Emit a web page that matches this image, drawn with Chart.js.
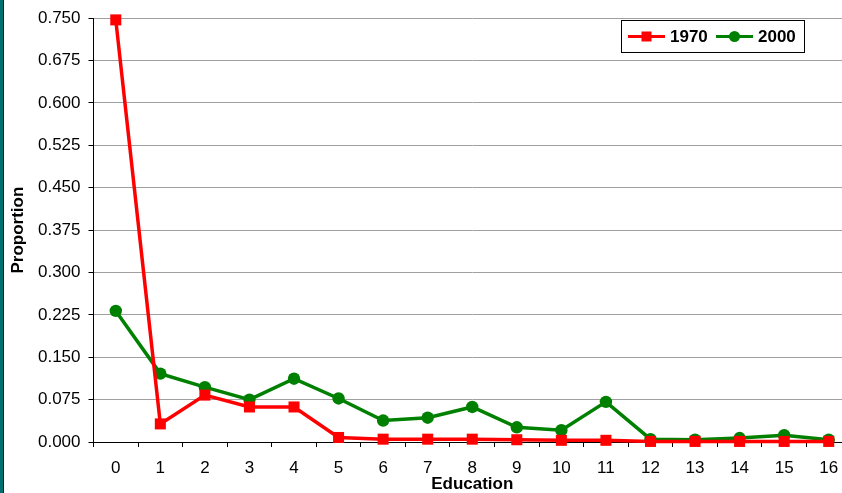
<!DOCTYPE html>
<html>
<head>
<meta charset="utf-8">
<script src="https://cdn.jsdelivr.net/npm/chart.js@4/dist/chart.umd.min.js"></script>
<style>
  html, body { margin: 0; padding: 0; background: #ffffff; overflow: hidden; }
  #wrap { position: relative; width: 842px; height: 493px; overflow: hidden; }
  #edge { position: absolute; left: 0; top: 0; width: 3px; height: 493px; background: #007070; border-right: 1px solid #1a1a1a; z-index: 2; }
  canvas { position: absolute; left: 0; top: 0; }
</style>
</head>
<body>
<div id="wrap">
  <div id="edge"></div>
  <canvas id="chart" width="860" height="493"></canvas>
</div>
<script>
// Years of education (category axis)
const education = ['0','1','2','3','4','5','6','7','8','9','10','11','12','13','14','15','16'];

// Share of population at each education level
const share1970 = [0.747, 0.032, 0.083, 0.062, 0.062, 0.008, 0.005, 0.005, 0.005, 0.004, 0.003, 0.003, 0.001, 0.001, 0.001, 0.001, 0.001];
const share2000 = [0.232, 0.121, 0.097, 0.075, 0.112, 0.077, 0.038, 0.043, 0.062, 0.026, 0.021, 0.071, 0.005, 0.004, 0.007, 0.012, 0.004];

const seriesNames = ['1970', '2000'];
const FONT = '"Liberation Sans", Arial, sans-serif';

// Boxed legend drawn inside the plot area, top right
const boxLegend = {
  id: 'boxLegend',
  afterDraw(chart) {
    const ctx = chart.ctx;
    const x0 = 621, y0 = 20, w = 183, h = 32;
    ctx.save();
    ctx.fillStyle = '#ffffff';
    ctx.fillRect(x0, y0, w, h);
    ctx.strokeStyle = '#000000';
    ctx.lineWidth = 1;
    ctx.strokeRect(x0 + 0.5, y0 + 0.5, w, h);
    const cy = y0 + h / 2 + 0.5;
    const items = [
      { x: 628, color: '#ff0000', style: 'rect', label: seriesNames[0] },
      { x: 716, color: '#008000', style: 'circle', label: seriesNames[1] }
    ];
    items.forEach(it => {
      ctx.strokeStyle = it.color;
      ctx.lineWidth = 3;
      ctx.beginPath();
      ctx.moveTo(it.x, cy);
      ctx.lineTo(it.x + 37, cy);
      ctx.stroke();
      ctx.fillStyle = it.color;
      const mx = it.x + 18.5;
      if (it.style === 'rect') {
        ctx.fillRect(mx - 5, cy - 5, 10, 10);
      } else {
        ctx.beginPath();
        ctx.arc(mx, cy, 5.5, 0, Math.PI * 2);
        ctx.fill();
      }
      ctx.fillStyle = '#000000';
      ctx.font = 'bold 17px ' + FONT;
      ctx.textBaseline = 'middle';
      ctx.textAlign = 'left';
      ctx.fillText(it.label, it.x + 42, cy + 1);
    });
    ctx.restore();
  }
};

new Chart(document.getElementById('chart'), {
  type: 'line',
  data: {
    labels: education,
    datasets: [
      {
        label: seriesNames[0],
        data: share1970,
        borderColor: '#ff0000',
        backgroundColor: '#ff0000',
        borderWidth: 3.5,
        pointStyle: 'rect',
        pointRadius: 7.8,
        pointBorderWidth: 0,
        tension: 0,
        clip: false
      },
      {
        label: seriesNames[1],
        data: share2000,
        borderColor: '#008000',
        backgroundColor: '#008000',
        borderWidth: 3.5,
        pointStyle: 'circle',
        pointRadius: 6.2,
        pointBorderWidth: 0,
        tension: 0,
        clip: false
      }
    ]
  },
  options: {
    responsive: false,
    animation: false,
    events: [],
    layout: { padding: { top: 16, right: 9, bottom: 0, left: 0 } },
    plugins: {
      legend: { display: false },
      tooltip: { enabled: false }
    },
    scales: {
      x: {
        type: 'category',
        offset: true,
        grid: {
          offset: true,
          drawOnChartArea: false,
          drawTicks: true,
          tickLength: 5,
          tickColor: '#000000',
          tickWidth: 1
        },
        border: { display: true, color: '#000000', width: 1 },
        ticks: { color: '#000000', font: { family: FONT, size: 17 }, padding: 11, maxRotation: 0, autoSkip: false },
        title: { display: true, text: 'Education', color: '#000000', font: { family: FONT, size: 17, weight: 'bold' }, padding: { top: 0, bottom: -2 } },
        afterFit(scale) { scale.height = 51; }
      },
      y: {
        min: 0,
        max: 0.75,
        grid: {
          color: '#a0a0a0',
          lineWidth: 1,
          drawTicks: true,
          tickLength: 5,
          tickColor: '#000000'
        },
        border: { display: true, color: '#000000', width: 1 },
        ticks: {
          stepSize: 0.075,
          color: '#000000',
          font: { family: FONT, size: 17 },
          padding: 8,
          callback: v => Number(v).toFixed(3)
        },
        title: { display: true, text: 'Proportion', color: '#000000', font: { family: FONT, size: 17, weight: 'bold' }, padding: { top: 8, bottom: 0 } },
        afterFit(scale) { scale.width = 93.5; }
      }
    }
  },
  plugins: [boxLegend]
});
</script>
</body>
</html>
